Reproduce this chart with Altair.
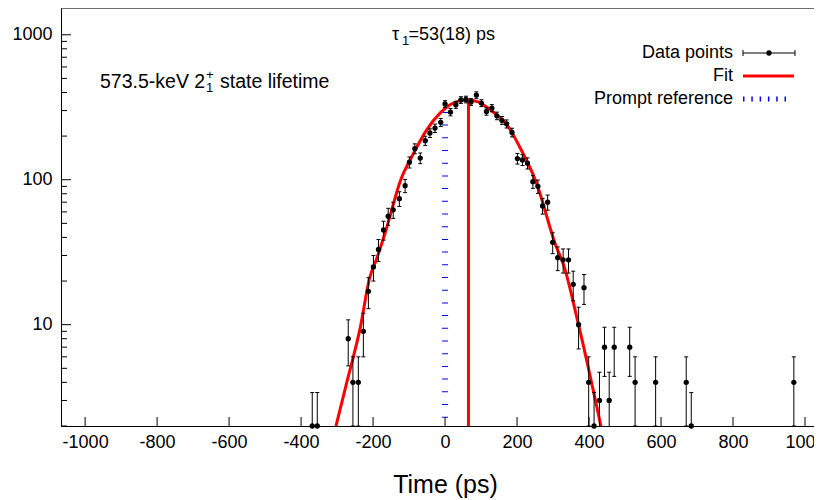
import altair as alt
import pandas as pd

# ---------------- data ----------------
time_ps = [-369, -355, -269, -256, -241, -227, -213, -199, -185, -171,
           -158, -144, -127, -111, -99, -84, -69, -55, -42, -28,
           -12, 0, 15, 30, 44, 58, 72, 87, 101, 115,
           130, 144, 158, 171, 186, 201, 215, 229, 244, 258,
           271, 285, 299, 313, 328, 343, 356, 371, 386, 399,
           414, 429, 443, 456, 470, 513, 528, 585, 670, 684,
           969, 1040]
counts = [2, 2, 8, 4, 4, 9, 17, 25, 33, 45,
          56, 62, 74, 91, 132, 164, 141, 186, 210, 227,
          249, 333, 293, 329, 355, 358, 344, 384, 338, 296,
          312, 276, 257, 243, 212, 140, 137, 130, 97, 90,
          66, 70, 37, 29, 28, 28, 19, 10, 18, 4,
          2, 3, 7, 3, 7, 7, 4, 4, 4, 2,
          4, 2]
count_err = [1.4, 1.4, 2.8, 2, 2, 3, 4.1, 5, 5.7, 6.7,
             7.5, 7.9, 8.6, 9.5, 11.5, 12.8, 11.9, 13.6, 14.5, 15.1,
             15.8, 18.2, 17.1, 18.1, 18.8, 18.9, 18.5, 19.6, 18.4, 17.2,
             17.7, 16.6, 16, 15.6, 14.6, 11.8, 11.7, 11.4, 9.8, 9.5,
             8.1, 8.4, 6.1, 5.4, 5.3, 5.3, 4.4, 3.2, 4.2, 2,
             1.4, 1.7, 2.6, 1.7, 2.6, 2.6, 2, 2, 2, 1.4,
             2, 1.4]

fit_time = [-303, -273, -235, -210, -190, -164, -123, -90, -51, -14, 14, 40,
            65, 90, 106, 140, 176, 208, 252, 308, 329, 370, 433]
fit_counts = [2, 4, 9.7, 20.8, 28.5, 45, 100, 148, 221, 288, 329, 350,
              355, 346, 329, 285, 232, 167, 98, 35, 26, 10.2, 2]

centroid_time = [65]
centroid_top = [355]
prompt_time = [0]
prompt_top = [353]

x_ticks = [-1000, -800, -600, -400, -200, 0, 200, 400, 600, 800, 1000]
y_major = [10, 100, 1000]
y_minor = [2, 3, 4, 5, 6, 7, 8, 9, 20, 30, 40, 50, 60, 70, 80, 90,
           200, 300, 400, 500, 600, 700, 800, 900]

x_domain = [-1067, 1025]
y_domain = [2, 1530]

# ---------------- layout ----------------
W, H = 753, 418
FONT = "Liberation Sans"

xs = alt.Scale(domain=x_domain, nice=False, zero=False)
ys = alt.Scale(type="log", domain=y_domain, nice=False)
x_axis = alt.Axis(values=x_ticks, ticks=False, grid=False, labelFontSize=18,
                  labelFont=FONT, labelColor="black", labelPadding=7,
                  labelExpr="datum.value < 0 ? '-' + abs(datum.value) : '' + datum.value",
                  domainColor="black", domainWidth=1, title="Time (ps)",
                  titleFont=FONT, titleFontSize=25, titleFontWeight="normal",
                  titleColor="black", titleX=384, titleY=66, titleAlign="center",
                  titleBaseline="alphabetic", labelFlush=False)
y_axis = alt.Axis(values=y_major, ticks=False, grid=False, labelFontSize=18,
                  labelFont=FONT, labelColor="black", labelPadding=9,
                  domainColor="black", domainWidth=1, title=None, format="d")


def X(field):
    return alt.X(field, type="quantitative", scale=xs, axis=x_axis, title="Time (ps)")


def Y(field):
    return alt.Y(field, type="quantitative", scale=ys, axis=y_axis, title=None)


pts = pd.DataFrame({
    "t": time_ps,
    "v": counts,
    "lo": [c - e for c, e in zip(counts, count_err)],
    "hi": [c + e for c, e in zip(counts, count_err)],
})
fit = pd.DataFrame({"t": fit_time, "v": fit_counts})
cen = pd.DataFrame({"t": centroid_time, "v": [y_domain[0]], "v2": centroid_top})
prm = pd.DataFrame({"t": prompt_time, "v": [y_domain[0]], "v2": prompt_top})
xt = pd.DataFrame({"t": x_ticks})
ymaj = pd.DataFrame({"v": y_major})
ymin = pd.DataFrame({"v": y_minor})
one = pd.DataFrame({"a": [0]})

errbars = alt.Chart(pts).mark_rule(color="black", strokeWidth=1, clip=True).encode(
    x=X("t"), y=Y("lo"), y2="hi")
cap_hi = alt.Chart(pts).mark_tick(orient="horizontal", size=4, thickness=1,
                                  color="black", clip=True, opacity=1).encode(x=X("t"), y=Y("hi"))
cap_lo = alt.Chart(pts).mark_tick(orient="horizontal", size=4, thickness=1,
                                  color="black", clip=True, opacity=1).encode(x=X("t"), y=Y("lo"))
dots = alt.Chart(pts).mark_circle(size=28, color="black", opacity=1).encode(x=X("t"), y=Y("v"))

fit_line = alt.Chart(fit).mark_line(color="#ff0000", strokeWidth=3, clip=True,
                                    interpolate="monotone").encode(x=X("t"), y=Y("v"))
cen_line = alt.Chart(cen).mark_rule(color="#ff0000", strokeWidth=3).encode(
    x=X("t"), y=Y("v"), y2="v2")
prm_line = alt.Chart(prm).mark_rule(color="#0000ff", strokeWidth=6, strokeDash=[1, 11.7],
                                    strokeDashOffset=4.4).encode(x=X("t"), y=Y("v"), y2="v2")

xtick_marks = alt.Chart(xt).mark_rule(color="black", strokeWidth=1).encode(
    x=X("t"), y=alt.value(H), y2=alt.value(H - 9))
ymaj_marks = alt.Chart(ymaj).mark_rule(color="black", strokeWidth=1).encode(
    y=Y("v"), x=alt.value(0), x2=alt.value(10))
ymin_marks = alt.Chart(ymin).mark_rule(color="black", strokeWidth=1).encode(
    y=Y("v"), x=alt.value(0), x2=alt.value(6))
top_border = alt.Chart(one).mark_rule(color="black", strokeWidth=1).encode(
    x=alt.value(0), x2=alt.value(W), y=alt.value(0))


def txt(s, x, y, size=18, align="left"):
    return alt.Chart(one).mark_text(text=s, font=FONT, fontSize=size, color="black",
                                    align=align, baseline="middle").encode(
        x=alt.value(x), y=alt.value(y))


def seg(x1, x2, y1, y2, color="black", width=1, dash=None):
    kw = dict(color=color, strokeWidth=width)
    if dash is not None:
        kw["strokeDash"] = dash
    return alt.Chart(one).mark_rule(**kw).encode(
        x=alt.value(x1), x2=alt.value(x2), y=alt.value(y1), y2=alt.value(y2))


# annotations
ann = [
    txt("τ", 331, 27),
    txt("1", 341, 33, size=13),
    txt("=53(18) ps", 347.5, 27),
    txt("573.5-keV 2", 39, 74, size=19.5),
    txt("+", 145, 67, size=13),
    txt("1", 145, 80, size=13),
    txt("state lifetime", 159, 74, size=19.5),
]

# legend
leg = [
    txt("Data points", 672, 45, align="right"),
    txt("Fit", 672, 68, align="right"),
    txt("Prompt reference", 672, 91, align="right"),
    seg(682, 734, 45, 45),
    seg(682, 682, 42, 48),
    seg(734, 734, 42, 48),
    alt.Chart(one).mark_circle(size=28, color="black", opacity=1).encode(
        x=alt.value(708), y=alt.value(45)),
    seg(682, 733, 68, 68, color="#ff0000", width=3),
    seg(682, 726, 91, 91, color="#0000ff", width=5, dash=[1.5, 6.8]),
]

chart = alt.layer(
    prm_line, fit_line, cen_line, errbars, cap_hi, cap_lo, dots,
    xtick_marks, ymaj_marks, ymin_marks, top_border, *ann, *leg
).properties(
    width=W, height=H,
    autosize=alt.AutoSizeParams(type="none"),
    padding={"left": 53, "top": 0, "right": 0, "bottom": 72},
).configure_view(stroke=None).configure(background="white")

chart.save("out.html", embed_options={"renderer": "svg", "actions": False})
